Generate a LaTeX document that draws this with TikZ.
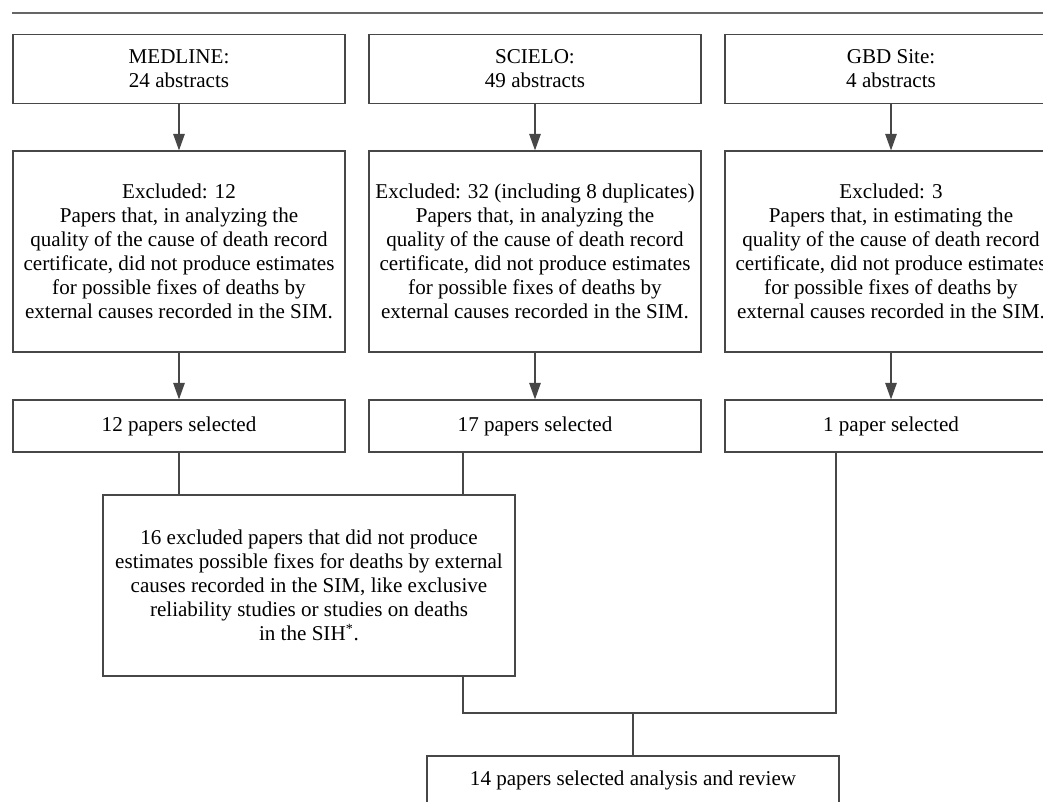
\documentclass[tikz,border=0pt]{standalone}
\usepackage{fontspec}
\setmainfont{Liberation Serif}
\usetikzlibrary{arrows.meta}
\tikzset{
    box/.style={draw=black!72, line width=0.7pt, align=center, inner sep=0pt,
        font=\fontsize{12}{13.7}\selectfont},
    col/.style={box, minimum width=6.64cm},
    wide/.style={box, minimum width=8.24cm},
    arr/.style={draw=black!72, line width=0.7pt, -{Triangle[length=3.3mm,width=2.3mm]}},
    link/.style={draw=black!72, line width=0.7pt}
}
\begin{document}
\begin{tikzpicture}[x=0.02cm,y=-0.02cm]

    \path[use as bounding box, clip] (0,0) rectangle (1043,801);

    \draw[black!60, line width=1.2pt] (12,13) -- (1043,13);

    \node[col, minimum height=1.38cm] (med) at (179,69) {MEDLINE:\\24 abstracts};
    \node[col, minimum height=1.38cm] (sci) at (535,69) {SCIELO:\\49 abstracts};
    \node[col, minimum height=1.38cm] (gbd) at (891,69) {GBD Site:\\4 abstracts};

    \node[col, minimum height=4.02cm] (medx) at (179,251.5) {Excluded: 12\\Papers that, in analyzing the\\quality of the cause of death record\\certificate, did not produce estimates\\for possible fixes of deaths by\\external causes recorded in the SIM.};
    \node[col, minimum height=4.02cm] (scix) at (535,251.5) {Excluded: 32 (including 8 duplicates)\\Papers that, in analyzing the\\quality of the cause of death record\\certificate, did not produce estimates\\for possible fixes of deaths by\\external causes recorded in the SIM.};
    \node[col, minimum height=4.02cm] (gbdx) at (891,251.5) {Excluded: 3\\Papers that, in estimating the\\quality of the cause of death record\\certificate, did not produce estimates\\for possible fixes of deaths by\\external causes recorded in the SIM.};

    \node[col, minimum height=1.04cm] (meds) at (179,426) {12 papers selected};
    \node[col, minimum height=1.04cm] (scis) at (535,426) {17 papers selected};
    \node[col, minimum height=1.04cm] (gbds) at (891,426) {1 paper selected};

    \node[wide, minimum height=3.62cm] (excl) at (309,585.5) {16 excluded papers that did not produce\\estimates possible fixes for deaths by external\\causes recorded in the SIM, like exclusive\\reliability studies or studies on deaths\\in the SIH\textsuperscript{*}.};

    \node[wide, minimum height=0.96cm] (final) at (633,780) {14 papers selected analysis and review};

    \coordinate (j0) at (463,713);
    \coordinate (j1) at (836,713);
    \coordinate (j2) at (633,713);

    \draw[arr] (med) -- (medx);
    \draw[arr] (sci) -- (scix);
    \draw[arr] (gbd) -- (gbdx);
    \draw[arr] (medx) -- (meds);
    \draw[arr] (scix) -- (scis);
    \draw[arr] (gbdx) -- (gbds);

    \draw[link] (meds) -- (meds |- excl.north);
    \draw[link] (scis.south -| j0) -- (excl.north -| j0);
    \draw[link] (excl.south -| j0) -- (j0) -- (j1) -- (gbds.south -| j1);
    \draw[link] (j2) -- (final);

\end{tikzpicture}
\end{document}
